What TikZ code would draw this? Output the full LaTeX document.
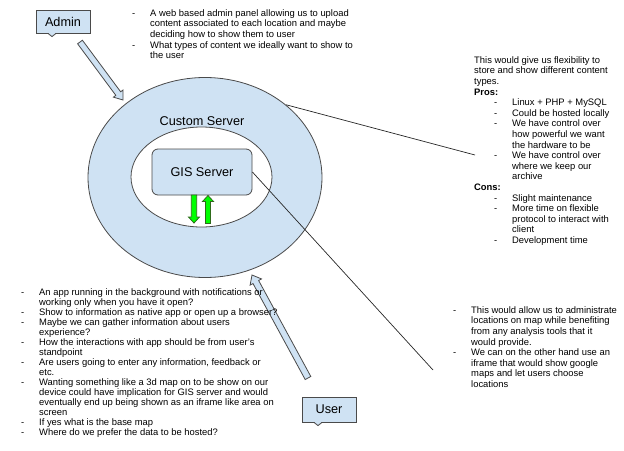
\documentclass[tikz,border=0pt]{standalone}
\usepackage{fontspec}
\setmainfont{Liberation Sans}
\usetikzlibrary{shapes.geometric,calc}
\definecolor{boxfill}{HTML}{CFE2F3}
\definecolor{edge}{HTML}{4A4A4A}
\definecolor{grfill}{HTML}{00FF00}
\definecolor{gredge}{HTML}{2E6B1A}
\newcommand{\dl}[1]{\makebox[18pt][l]{-}#1}
\newcommand{\cl}[1]{\hspace*{18pt}#1}
\newcommand{\fl}{\rule{0pt}{8pt}}
% block arrow: tail, tip, shaft half width, head half width, head length, style
\newcommand{\blockarrow}[6]{%
  \coordinate (#1-q) at ($(#2)!#5!(#1)$);
  \draw[#6] ($(#1)!#3!90:(#2)$) -- ($(#1-q)!#3!-90:(#1)$) -- ($(#1-q)!#4!-90:(#1)$) -- (#2)
     -- ($(#1-q)!#4!90:(#1)$) -- ($(#1-q)!#3!90:(#1)$) -- ($(#1)!#3!-90:(#2)$) -- cycle;}
\begin{document}
\begin{tikzpicture}[x=1pt,y=-1pt,
  big/.style={font=\fontsize{12.7}{15}\selectfont},
  txt/.style={font=\fontsize{9.4}{10.6}\selectfont,align=left,anchor=north west,inner sep=0pt},
  txttight/.style={txt,font=\fontsize{9.4}{10.0}\selectfont},
  bluebox/.style={draw=edge,fill=boxfill,line width=0.8pt,minimum width=54pt,inner sep=0pt},
  conn/.style={draw=black!85,line width=0.7pt},
  hollow/.style={draw=edge,fill=boxfill,line width=0.8pt,line join=miter},
  green/.style={draw=gredge,fill=grfill,line width=0.8pt,line join=miter}]
\useasboundingbox (0,0) rectangle (624,450);

% servers
\node[ellipse,draw=edge,fill=boxfill,line width=0.8pt,minimum width=234pt,minimum height=200pt,inner sep=0pt] (custom) at (205,177.5) {};
\node[big] (customlbl) at (202,121) {Custom Server};
\node[ellipse,draw=edge,fill=white,line width=0.8pt,minimum width=141pt,minimum height=100pt,inner sep=0pt] (ring) at (201.5,177) {};
\node[big,draw=edge,fill=boxfill,line width=0.8pt,rounded corners=6pt,minimum width=100pt,minimum height=46pt,inner sep=0pt] (gis) at (202,172) {GIS Server};

% green arrows
\coordinate (gdtail) at (194,195);
\coordinate (gdtip) at (194,223);
\blockarrow{gdtail}{gdtip}{2.7pt}{5.5pt}{6pt}{green}
\coordinate (gutail) at (208,223.5);
\coordinate (gutip) at (208,195.5);
\blockarrow{gutail}{gutip}{2.5pt}{5.5pt}{6pt}{green}

% admin / user
\node[bluebox,big,minimum height=23pt] (admin) at (63,21.5) {Admin};
\fill[boxfill] ($(admin.south)+(-15,-0.8)$) -- ($(admin.south)+(-11,3.2)$) -- ($(admin.south)+(-7,-0.8)$) -- cycle;
\draw[edge,line width=0.8pt] ($(admin.south)+(-15,0)$) -- ($(admin.south)+(-11,3.2)$) -- ($(admin.south)+(-7,0)$);
\node[bluebox,big,minimum height=25pt] (user) at (329,409.5) {User};
\fill[boxfill] ($(user.south)+(-15,-0.8)$) -- ($(user.south)+(-11,3.2)$) -- ($(user.south)+(-7,-0.8)$) -- cycle;
\draw[edge,line width=0.8pt] ($(user.south)+(-15,0)$) -- ($(user.south)+(-11,3.2)$) -- ($(user.south)+(-7,0)$);

\coordinate (admtail) at (80,42);
\coordinate (admtip) at (123,100);
\blockarrow{admtail}{admtip}{3pt}{6pt}{8pt}{hollow}
\coordinate (usrtail) at (308,378);
\coordinate (usrtip) at (252,275);
\blockarrow{usrtail}{usrtip}{3.2pt}{6.5pt}{8pt}{hollow}

% connectors to notes
\coordinate (noteR) at (475,155);
\coordinate (noteBR) at (433,370);
\draw[conn] (custom.42) -- (noteR);
\draw[conn] (gis.east) -- (noteBR);

% notes
\node[txt] (topnote) at (132,8) {\fl\dl{A web based admin panel allowing us to upload}\\
\cl{content associated to each location and maybe}\\
\cl{deciding how to show them to user}\\
\dl{What types of content we ideally want to show to}\\
\cl{the user}};

\node[txt] (rightnote) at (474,55) {\fl This would give us flexibility to\\
store and show different content\\
types.\\
\textbf{Pros:}\\
\hspace*{20pt}\dl{Linux + PHP + MySQL}\\
\hspace*{20pt}\dl{Could be hosted locally}\\
\hspace*{20pt}\dl{We have control over}\\
\hspace*{20pt}\cl{how powerful we want}\\
\hspace*{20pt}\cl{the hardware to be}\\
\hspace*{20pt}\dl{We have control over}\\
\hspace*{20pt}\cl{where we keep our}\\
\hspace*{20pt}\cl{archive}\\
\textbf{Cons:}\\
\hspace*{20pt}\dl{Slight maintenance}\\
\hspace*{20pt}\dl{More time on flexible}\\
\hspace*{20pt}\cl{protocol to interact with}\\
\hspace*{20pt}\cl{client}\\
\hspace*{20pt}\dl{Development time}};

\node[txttight] (leftnote) at (21,287) {\fl\dl{An app running in the background with notifications or}\\
\cl{working only when you have it open?}\\
\dl{Show to information as native app or open up a browser?}\\
\dl{Maybe we can gather information about users}\\
\cl{experience?}\\
\dl{How the interactions with app should be from user’s}\\
\cl{standpoint}\\
\dl{Are users going to enter any information, feedback or}\\
\cl{etc.}\\
\dl{Wanting something like a 3d map on to be show on our}\\
\cl{device could have implication for GIS server and would}\\
\cl{eventually end up being shown as an iframe like area on}\\
\cl{screen}\\
\dl{If yes what is the base map}\\
\dl{Where do we prefer the data to be hosted?}};

\node[txt] (brnote) at (453,305) {\fl\dl{This would allow us to administrate}\\
\cl{locations on map while benefiting}\\
\cl{from any analysis tools that it}\\
\cl{would provide.}\\
\dl{We can on the other hand use an}\\
\cl{iframe that would show google}\\
\cl{maps and let users choose}\\
\cl{locations}};
\end{tikzpicture}
\end{document}
